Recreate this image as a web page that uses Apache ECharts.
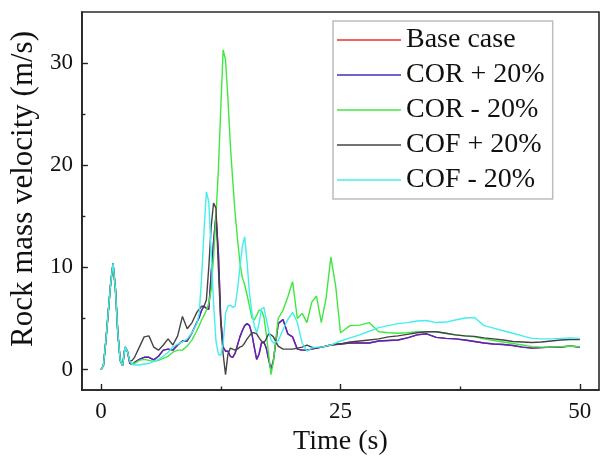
<!DOCTYPE html>
<html>
<head>
<meta charset="utf-8">
<script src="https://cdn.jsdelivr.net/npm/echarts@6/dist/echarts.min.js"></script>
<style>
html,body{margin:0;padding:0;background:#fff;}
#chart{width:602px;height:462px;}
</style>
</head>
<body>
<div id="chart"></div>
<script>
// Time (s)
const time = [
  0,0.25,0.5,0.75,1,1.25,1.5,1.75,2,2.25,2.5,2.75,3,3.25,3.5,
  4,4.5,5,5.5,6,6.5,7,7.5,8,8.5,9,9.5,10,
  10.25,10.5,10.75,11,11.25,11.5,11.75,12,12.25,12.5,12.75,13,13.25,13.5,13.75,14,
  14.25,14.5,14.75,15,15.25,15.5,15.75,16,16.25,16.5,16.75,17,17.25,17.5,17.75,18,
  18.5,19,19.5,20,20.5,21,21.5,22,22.5,23,23.5,24,24.5,25,
  26,27,28,29,30,31,32,33,34,35,36,37,38,39,40,41,42,43,44,45,46,47,48,49,50
];

const seriesNames = ['Base case','COR + 20%','COR - 20%','COF + 20%','COF - 20%'];

const baseCase = [
  0,0.4,2.8,5.6,8.4,10.4,7.9,3.6,0.9,0.4,2.2,1.8,0.6,0.5,0.7,
  1.0,1.2,1.2,0.95,1.3,1.9,2.0,1.9,2.4,2.8,2.8,3.6,4.6,
  5.1,5.8,6.2,6.0,5.9,9.4,12.5,15.1,11.5,5.0,2.2,1.8,1.8,1.3,1.2,1.6,
  2.4,3.2,3.8,4.3,4.5,4.3,3.5,2.2,1.0,1.5,2.6,2.7,2.1,1.0,0.0,0.9,
  4.5,4.9,3.5,3.2,2.0,1.9,1.9,2.0,2.1,2.2,2.3,2.4,2.45,2.5,
  2.6,2.6,2.6,2.8,2.85,2.9,3.1,3.4,3.5,3.15,3.05,3.0,2.9,2.75,2.6,2.5,2.45,2.35,2.2,2.1,2.15,2.2,2.2,2.3,2.2
];

const corPlus20 = [
  0,0.4,2.8,5.6,8.4,10.4,7.9,3.6,0.9,0.4,2.2,1.8,0.6,0.5,0.7,
  1.0,1.2,1.2,0.95,1.3,1.9,2.0,1.9,2.4,2.8,2.8,3.6,4.6,
  5.1,5.8,6.2,6.0,5.9,9.4,12.5,15.1,11.5,5.0,2.2,1.8,1.8,1.3,1.2,1.6,
  2.4,3.2,3.8,4.3,4.5,4.3,3.5,2.2,1.0,1.5,2.6,2.7,2.1,1.0,0.0,0.9,
  4.5,4.9,3.5,3.2,2.0,1.9,1.9,2.0,2.1,2.2,2.3,2.4,2.45,2.5,
  2.6,2.6,2.6,2.8,2.85,2.9,3.1,3.4,3.5,3.15,3.05,3.0,2.9,2.75,2.6,2.5,2.45,2.35,2.2,2.1,2.15,2.2,2.2,2.3,2.2
];

const corMinus20 = [
  0,0.4,2.8,5.6,8.4,10.4,7.9,3.6,0.9,0.4,2.2,1.8,0.8,0.6,0.6,
  0.9,1.0,0.9,0.8,0.9,1.1,1.3,1.7,1.9,1.9,2.3,2.9,3.8,
  4.3,4.85,5.3,5.8,6.5,7.8,11.0,15.0,19.5,25.5,31.3,30.3,26.5,22.0,18.5,15.3,
  12.8,10.5,9.0,8.3,7.3,6.2,5.1,4.85,5.3,5.8,5.8,5.2,3.5,1.5,-0.5,0.8,
  5.0,5.8,7.1,8.6,5.0,5.5,4.6,6.6,7.2,4.6,7.0,11.0,8.2,3.6,
  4.3,4.35,4.6,3.7,3.6,3.55,3.6,3.7,3.7,3.7,3.55,3.4,3.3,3.2,3.0,2.85,2.7,2.55,2.4,2.25,2.2,2.2,2.25,2.3,2.25
];

const cofPlus20 = [
  0,0.4,2.8,5.6,8.4,10.4,7.9,3.6,0.9,0.4,2.2,1.8,0.8,0.9,1.2,
  2.2,3.2,3.3,2.2,1.9,2.4,3.0,2.4,3.3,5.2,4.0,4.6,5.6,
  5.9,6.2,6.2,6.8,10.0,14.0,16.3,15.8,10.0,4.5,1.5,-0.5,1.5,2.1,2.0,1.9,
  2.0,2.2,2.3,2.6,3.0,3.3,3.6,3.6,3.5,3.1,2.8,2.6,3.0,3.5,3.4,3.2,
  2.3,2.0,2.0,2.0,2.1,2.2,2.4,2.2,2.1,2.2,2.3,2.4,2.5,2.5,
  2.7,2.8,2.9,3.0,3.2,3.3,3.45,3.6,3.7,3.7,3.55,3.4,3.3,3.25,3.1,3.0,2.9,2.75,2.7,2.65,2.7,2.8,2.9,2.95,2.95
];

const cofMinus20 = [
  0,0.4,2.8,5.6,8.4,10.4,7.9,3.6,0.9,0.4,2.2,1.8,0.8,0.5,0.45,
  0.45,0.55,0.6,0.8,1.0,1.3,1.7,2.2,2.5,2.7,3.0,3.6,4.5,
  5.5,9.0,13.5,17.4,16.4,11.5,6.5,2.8,1.5,1.4,2.5,5.5,6.2,6.3,6.1,6.2,
  7.8,10.0,12.0,13.0,10.5,7.5,5.6,4.3,3.6,4.5,5.9,6.1,5.0,3.8,2.9,2.6,
  2.8,3.9,4.9,5.6,4.6,2.6,1.8,2.1,2.2,2.2,2.3,2.4,2.6,2.8,
  3.1,3.4,3.75,4.1,4.3,4.5,4.6,4.75,4.8,4.6,4.65,4.85,5.05,5.1,4.3,4.05,3.8,3.55,3.3,3.05,3.0,3.0,3.05,3.1,3.05
];

const xMajorTicks = [0, 25, 50];
const xMinorTicks = [12.5, 37.5];
const yMajorTicks = [0, 10, 20, 30];
const yMinorTicks = [5, 15, 25];

const colors = ['#ee3030', '#4a28c4', '#3fe83f', '#444444', '#44eeee'];
const values = [baseCase, corPlus20, corMinus20, cofPlus20, cofMinus20];

const FONT = '"Liberation Serif", "Times New Roman", serif';
const chart = echarts.init(document.getElementById('chart'), null, {renderer: 'canvas'});

const axisCommon = {
  type: 'value',
  splitLine: {show: false},
};

const option = {
  animation: false,
  backgroundColor: '#ffffff',
  grid: {
    left: 75, right: 3, top: 12, bottom: 72,
    show: true, borderColor: '#2a2a2a', borderWidth: 1.6, backgroundColor: 'transparent'
  },
  legend: {
    orient: 'vertical',
    left: 333, top: 21,
    data: seriesNames,
    icon: 'rect',
    itemWidth: 64, itemHeight: 1.5, itemGap: 5,
    padding: [4, 8, 4, 4],
    borderColor: '#bdbdbd', borderWidth: 1.5,
    backgroundColor: '#ffffff',
    textStyle: {fontFamily: FONT, fontSize: 28, color: '#111', lineHeight: 30},
  },
  xAxis: [
    Object.assign({}, axisCommon, {
      min: -2, max: 52,
      position: 'bottom',
      name: 'Time (s)', nameLocation: 'middle', nameGap: 36,
      nameTextStyle: {fontFamily: FONT, fontSize: 28, color: '#111'},
      axisLine: {show: true, onZero: false, lineStyle: {color: '#222', width: 1.6}},
      axisTick: {show: true, inside: true, length: 6, customValues: xMajorTicks, lineStyle: {color: '#222', width: 1.4}},
      axisLabel: {show: true, customValues: xMajorTicks, margin: 10, fontFamily: FONT, fontSize: 23, color: '#111'},
    }),
    Object.assign({}, axisCommon, {
      min: -2, max: 52,
      position: 'bottom',
      axisLine: {show: false, onZero: false},
      axisTick: {show: true, inside: true, length: 3.5, customValues: xMinorTicks, lineStyle: {color: '#222', width: 1.4}},
      axisLabel: {show: false},
    })
  ],
  yAxis: [
    Object.assign({}, axisCommon, {
      min: -2, max: 35,
      position: 'left',
      name: 'Rock mass velocity (m/s)', nameLocation: 'middle', nameGap: 11, nameRotate: 90,
      nameTextStyle: {fontFamily: FONT, fontSize: 31, color: '#111', padding: [0, 0, 0, 24]},
      axisLine: {show: true, onZero: false, lineStyle: {color: '#222', width: 1.6}},
      axisTick: {show: true, inside: true, length: 6, customValues: yMajorTicks, lineStyle: {color: '#222', width: 1.4}},
      axisLabel: {show: true, customValues: yMajorTicks, margin: 9, fontFamily: FONT, fontSize: 23, color: '#111'},
    }),
    Object.assign({}, axisCommon, {
      min: -2, max: 35,
      position: 'left',
      axisLine: {show: false, onZero: false},
      axisTick: {show: true, inside: true, length: 3.5, customValues: yMinorTicks, lineStyle: {color: '#222', width: 1.4}},
      axisLabel: {show: false},
    })
  ],
  series: seriesNames.map((name, k) => ({
    name: name,
    type: 'line',
    xAxisIndex: 0, yAxisIndex: 0,
    showSymbol: false, symbol: 'none',
    smooth: false,
    color: colors[k],
    lineStyle: {color: colors[k], width: 1.4},
    data: time.map((t, i) => [t, values[k][i]]),
    z: 2 + k,
  })),
};

chart.setOption(option);
</script>
</body>
</html>
